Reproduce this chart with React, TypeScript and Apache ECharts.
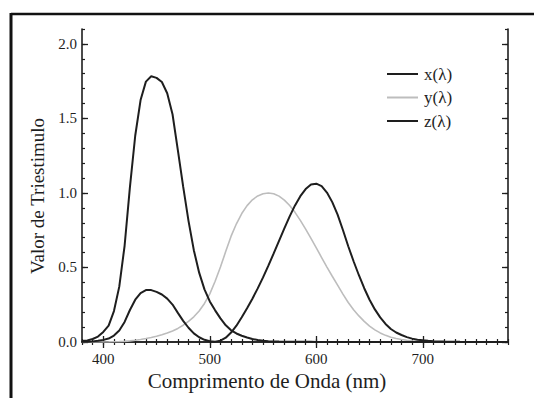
import React, { useEffect, useRef } from "react";
import * as echarts from "echarts";

// Wavelength (nm)
const wavelengths = [
  380, 385, 390, 395, 400, 405, 410, 415, 420, 425, 430, 435, 440, 445, 450, 455,
  460, 465, 470, 475, 480, 485, 490, 495, 500, 505, 510, 515, 520, 525, 530, 535,
  540, 545, 550, 555, 560, 565, 570, 575, 580, 585, 590, 595, 600, 605, 610, 615,
  620, 625, 630, 635, 640, 645, 650, 655, 660, 665, 670, 675, 680, 685, 690, 695,
  700, 705, 710, 715, 720, 725, 730, 735, 740, 745, 750, 755, 760, 765, 770, 775, 780,
];

const xBar = [
  0.0014, 0.0022, 0.0042, 0.0077, 0.0143, 0.0232, 0.0435, 0.0776, 0.1344, 0.2148, 0.2839, 0.3285, 0.3483, 0.3481, 0.3362, 0.3187,
  0.2908, 0.2511, 0.1954, 0.1421, 0.0956, 0.058, 0.032, 0.0147, 0.0049, 0.0024, 0.0093, 0.0291, 0.0633, 0.1096, 0.1655, 0.2258,
  0.2904, 0.3597, 0.4335, 0.5121, 0.5945, 0.6784, 0.7621, 0.8425, 0.9163, 0.9786, 1.0263, 1.0567, 1.0622, 1.0456, 1.0026, 0.9384,
  0.8545, 0.7514, 0.6424, 0.5419, 0.4479, 0.3608, 0.2835, 0.2187, 0.1649, 0.1212, 0.0874, 0.0636, 0.0468, 0.0329, 0.0227, 0.0158,
  0.0114, 0.0081, 0.0058, 0.0041, 0.0029, 0.002, 0.0014, 0.001, 0.0007, 0.0005, 0.0003, 0.0002, 0.0002, 0.0001, 0.0001, 0.0001, 0.0,
];

const yBar = [
  0.0, 0.0001, 0.0001, 0.0002, 0.0004, 0.0006, 0.0012, 0.0022, 0.004, 0.0073, 0.0116, 0.0168, 0.023, 0.0298, 0.038, 0.048,
  0.06, 0.0739, 0.091, 0.1126, 0.139, 0.1693, 0.208, 0.2586, 0.323, 0.4073, 0.503, 0.6082, 0.71, 0.7932, 0.862, 0.9149,
  0.954, 0.9803, 0.995, 1.0, 0.995, 0.9786, 0.952, 0.9154, 0.87, 0.8163, 0.757, 0.6949, 0.631, 0.5668, 0.503, 0.4412,
  0.381, 0.321, 0.265, 0.217, 0.175, 0.1382, 0.107, 0.0816, 0.061, 0.0446, 0.032, 0.0232, 0.017, 0.0119, 0.0082, 0.0057,
  0.0041, 0.0029, 0.0021, 0.0015, 0.001, 0.0007, 0.0005, 0.0004, 0.0002, 0.0002, 0.0001, 0.0001, 0.0001, 0.0, 0.0, 0.0, 0.0,
];

const zBar = [
  0.0065, 0.0106, 0.0201, 0.0362, 0.0679, 0.1102, 0.2074, 0.3713, 0.6456, 1.0391, 1.3856, 1.623, 1.7471, 1.7826, 1.7721, 1.7441,
  1.6692, 1.5281, 1.2876, 1.0419, 0.813, 0.6162, 0.4652, 0.3533, 0.272, 0.2123, 0.1582, 0.1117, 0.0782, 0.0573, 0.0422, 0.0298,
  0.0203, 0.0134, 0.0088, 0.0058, 0.0039, 0.0028, 0.0021, 0.0018, 0.0017, 0.0014, 0.0011, 0.001, 0.0008, 0.0006, 0.0003, 0.0002,
  0.0002, 0.0001, 0.0001, 0.0, 0.0, 0.0, 0.0, 0.0, 0.0, 0.0, 0.0, 0.0, 0.0, 0.0, 0.0, 0.0,
  0.0, 0.0, 0.0, 0.0, 0.0, 0.0, 0.0, 0.0, 0.0, 0.0, 0.0, 0.0, 0.0, 0.0, 0.0, 0.0, 0.0,
];

const seriesNames = ["x(λ)", "y(λ)", "z(λ)"];
const xTickValues = [400, 500, 600, 700];
const yTickValues = [0, 0.5, 1.0, 1.5, 2.0];
const xTitle = "Comprimento de Onda (nm)";
const yTitle = "Valor de Triestimulo";

const FONT = "'Liberation Serif', 'Times New Roman', serif";
const INK = "#1e1e1e";

export default function App() {
  const ref = useRef<HTMLDivElement>(null);

  useEffect(() => {
    if (!ref.current) return;
    const chart = echarts.init(ref.current, undefined, { renderer: "svg" });

    const pairs = (vals: number[]) => wavelengths.map((w, i) => [w, vals[i]]);

    const majorX = (pos: "bottom" | "top", labels: boolean) => ({
      type: "value",
      position: pos,
      min: 380,
      max: 780,
      axisLine: { show: true, lineStyle: { color: INK, width: 1.6 } },
      axisTick: { show: true, inside: true, length: 6, customValues: xTickValues, lineStyle: { color: INK, width: 1.3 } },
      axisLabel: labels
        ? { show: true, customValues: xTickValues, fontFamily: FONT, fontSize: 15, color: INK, margin: 9 }
        : { show: false },
      splitLine: { show: false },
    });
    const minorX = (pos: "bottom" | "top") => ({
      type: "value",
      position: pos,
      min: 380,
      max: 780,
      interval: 10,
      axisLine: { show: false },
      axisTick: { show: true, inside: true, length: 3, lineStyle: { color: INK, width: 1.2 } },
      axisLabel: { show: false },
      splitLine: { show: false },
    });
    const majorY = (pos: "left" | "right", labels: boolean) => ({
      type: "value",
      position: pos,
      min: 0,
      max: 2.1,
      axisLine: { show: true, lineStyle: { color: INK, width: 1.6 } },
      axisTick: { show: true, inside: true, length: 6, customValues: yTickValues, lineStyle: { color: INK, width: 1.3 } },
      axisLabel: labels
        ? {
            show: true,
            customValues: yTickValues,
            fontFamily: FONT,
            fontSize: 15,
            color: INK,
            margin: 5,
            formatter: (v: number) => v.toFixed(1),
          }
        : { show: false },
      splitLine: { show: false },
    });
    const minorY = (pos: "left" | "right") => ({
      type: "value",
      position: pos,
      min: 0,
      max: 2.1,
      interval: 0.1,
      axisLine: { show: false },
      axisTick: { show: true, inside: true, length: 3, lineStyle: { color: INK, width: 1.2 } },
      axisLabel: { show: false },
      splitLine: { show: false },
    });

    const colors = [INK, "#bdbdbd", INK];
    const widths = [2, 1.6, 2];
    const datasets = [xBar, yBar, zBar];

    chart.setOption({
      animation: false,
      backgroundColor: "#ffffff",
      textStyle: { fontFamily: FONT },
      grid: { left: 82, right: 26, top: 29, bottom: 56, containLabel: false },
      xAxis: [majorX("bottom", true), minorX("bottom"), majorX("top", false), minorX("top")],
      yAxis: [majorY("left", true), minorY("left"), majorY("right", false), minorY("right")],
      legend: {
        data: seriesNames,
        orient: "vertical",
        left: 382,
        top: 59,
        icon: "rect",
        itemWidth: 31,
        itemHeight: 2,
        itemGap: 3.5,
        textStyle: { fontFamily: FONT, fontSize: 17, color: INK, lineHeight: 20, padding: [0, 0, 0, 1] },
      },
      graphic: [
        { type: "line", shape: { x1: 11, y1: 14, x2: 534, y2: 14 }, style: { stroke: "#111", lineWidth: 2.5 } },
        { type: "line", shape: { x1: 11, y1: 13, x2: 11, y2: 398 }, style: { stroke: "#111", lineWidth: 3 } },
        {
          type: "text",
          x: 267,
          y: 381,
          style: { text: xTitle, fontFamily: FONT, fontSize: 21, fill: INK, textAlign: "center", textVerticalAlign: "middle" },
        },
        {
          type: "text",
          x: 37,
          y: 196,
          rotation: Math.PI / 2,
          style: { text: yTitle, fontFamily: FONT, fontSize: 19, fill: INK, textAlign: "center", textVerticalAlign: "middle" },
        },
      ],
      series: seriesNames.map((name, i) => ({
        name,
        type: "line",
        xAxisIndex: 0,
        yAxisIndex: 0,
        showSymbol: false,
        symbol: "none",
        smooth: false,
        color: colors[i],
        itemStyle: { color: colors[i] },
        lineStyle: { color: colors[i], width: widths[i] },
        data: pairs(datasets[i]),
        z: i === 1 ? 2 : 3,
      })),
    });

    return () => chart.dispose();
  }, []);

  return (
    <div
      ref={ref}
      style={{ position: "absolute", left: 0, top: 0, width: 534, height: 398, background: "#fff" }}
    />
  );
}
